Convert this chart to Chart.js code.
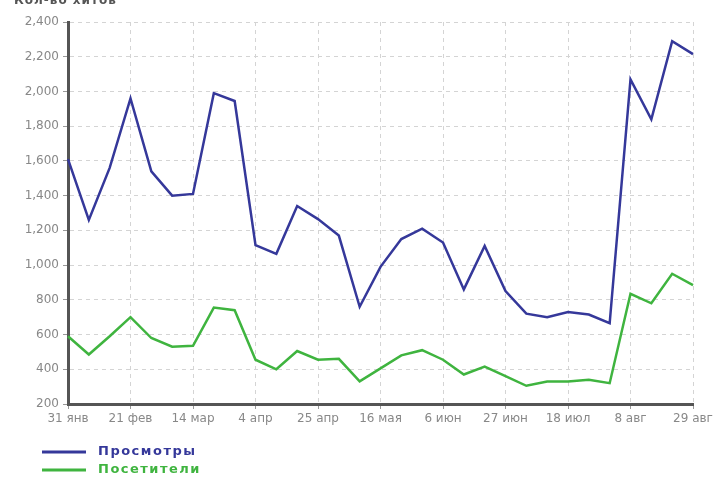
<!DOCTYPE html>
<html>
<head>
<meta charset="utf-8">
<script src="https://cdn.jsdelivr.net/npm/chart.js@4"></script>
<style>
  html, body { margin: 0; padding: 0; background: #fff; }
  #wrap { width: 720px; height: 480px; }
</style>
</head>
<body>
<div id="wrap"><canvas id="statsChart" width="720" height="480"></canvas></div>
<script>
// weekly stats, 31 янв .. 29 авг
const weeks = [
  '31 янв', '', '', '21 фев', '', '', '14 мар', '', '', '4 апр', '', '',
  '25 апр', '', '', '16 мая', '', '', '6 июн', '', '', '27 июн', '', '',
  '18 июл', '', '', '8 авг', '', '', '29 авг'
];
const views = [
  1610, 1260, 1560, 1960, 1540, 1400, 1410, 1990, 1945, 1115, 1065, 1340,
  1265, 1170, 760, 990, 1150, 1210, 1130, 860, 1110, 850, 720, 700,
  730, 715, 665, 2070, 1840, 2290, 2215
];
const visitors = [
  590, 485, 590, 700, 580, 530, 535, 755, 740, 455, 400, 505,
  455, 460, 330, 405, 480, 510, 455, 370, 415, 360, 305, 330,
  330, 340, 320, 835, 780, 950, 885
];
const yMin = 200;
const yMax = 2400;
const yStep = 200;

// title (cut off at top) and the two-row legend at bottom left
const extras = {
  id: 'extras',
  afterDraw(chart) {
    const ctx = chart.ctx;
    ctx.save();
    ctx.font = 'bold 12px "DejaVu Sans", sans-serif';
    ctx.letterSpacing = '1px';
    ctx.fillStyle = '#555';
    ctx.textBaseline = 'alphabetic';
    ctx.fillText('Кол-во хитов', 14, 4);

    chart.data.datasets.forEach((ds, i) => {
      const y = 452 + i * 18;
      ctx.strokeStyle = ds.borderColor;
      ctx.lineWidth = 3;
      ctx.beginPath();
      ctx.moveTo(42, y);
      ctx.lineTo(86, y);
      ctx.stroke();
      ctx.fillStyle = ds.borderColor;
      ctx.font = 'bold 13px "DejaVu Sans", sans-serif';
      ctx.letterSpacing = '1.5px';
      ctx.textBaseline = 'middle';
      ctx.fillText(ds.label, 98, y);
    });
    ctx.restore();
  }
};

const ctx = document.getElementById('statsChart').getContext('2d');
new Chart(ctx, {
  type: 'line',
  data: {
    labels: weeks,
    datasets: [
      {
        label: 'Просмотры',
        data: views,
        borderColor: '#35389a',
        borderWidth: 2.5,
        pointRadius: 0,
        tension: 0
      },
      {
        label: 'Посетители',
        data: visitors,
        borderColor: '#3fb43f',
        borderWidth: 2.5,
        pointRadius: 0,
        tension: 0
      }
    ]
  },
  options: {
    responsive: false,
    animation: false,
    layout: {
      padding: { top: 22, right: 27, bottom: 46, left: 0 }
    },
    scales: {
      x: {
        afterFit(scale) { scale.height = 30; },
        border: { color: '#555', width: 3, dash: [4, 4] },
        grid: {
          color: (c) => (c.index % 3 === 0 ? '#d4d4d4' : 'rgba(0,0,0,0)'),
          tickLength: 5,
          tickColor: (c) => (c.index % 3 === 0 ? '#999' : 'rgba(0,0,0,0)')
        },
        ticks: {
          autoSkip: false,
          maxRotation: 0,
          color: '#888',
          font: { size: 12, family: '"DejaVu Sans", sans-serif' },
          padding: 3
        }
      },
      y: {
        min: yMin,
        max: yMax,
        afterFit(scale) { scale.width = 68; },
        border: { color: '#555', width: 3, dash: [4, 4] },
        grid: { color: '#d4d4d4', tickLength: 5, tickColor: '#999' },
        ticks: {
          stepSize: yStep,
          color: '#888',
          font: { size: 12, family: '"DejaVu Sans", sans-serif' },
          padding: 4,
          callback: (v) => v.toLocaleString('en-US')
        }
      }
    },
    plugins: {
      legend: { display: false },
      tooltip: { enabled: false }
    }
  },
  plugins: [extras]
});
</script>
</body>
</html>
